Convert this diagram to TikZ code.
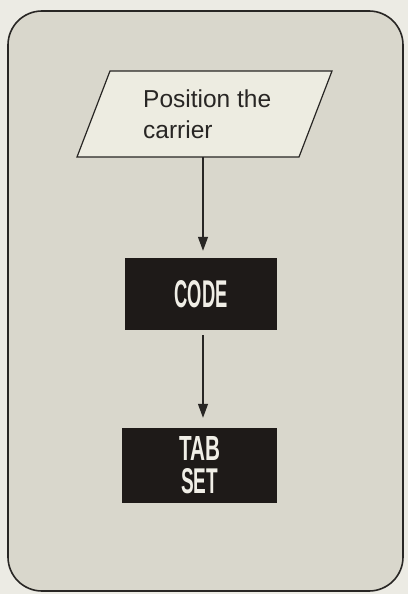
\documentclass[tikz,border=0pt]{standalone}
\usepackage{fontspec}
\usepackage{graphicx}
\setmainfont{Liberation Sans}
\usetikzlibrary{arrows.meta}
\definecolor{pagebg}{RGB}{236,235,228}
\definecolor{panelbg}{RGB}{217,215,204}
\definecolor{parabg}{RGB}{237,236,225}
\definecolor{boxbg}{RGB}{30,26,24}
\definecolor{inkc}{RGB}{40,38,36}
\definecolor{boxtxt}{RGB}{240,238,230}
\tikzset{
  panel/.style={draw=inkc, line width=1.6pt, fill=panelbg, rounded corners=34pt},
  parashape/.style={draw=inkc, line width=1.2pt, fill=parabg, line join=miter},
  blackbox/.style={fill=boxbg, draw=none, inner sep=0pt, text=boxtxt, align=center},
  flow/.style={draw=inkc, line width=1.2pt, -{Triangle[length=14pt,width=10pt]}},
  ptext/.style={inner sep=0pt, anchor=base west, text=inkc, font=\fontsize{24.5}{31}\selectfont}
}
\begin{document}
\begin{tikzpicture}[x=1pt,y=-1pt]
\useasboundingbox (0,0) rectangle (408,594);
\fill[pagebg] (0,0) rectangle (408,594);
\path[panel] (8,11) rectangle (403,591);
% parallelogram
\path[parashape] (110,71) -- (332,71) -- (299,157) -- (77,157) -- cycle;
\node[ptext] (pos1) at (143,107) {Position the};
\node[ptext] (pos2) at (143,138) {carrier};
\coordinate (pbot) at (203,157);
% black boxes
\node[blackbox, minimum width=152pt, minimum height=72pt] (code) at (201,294)
  {\resizebox{53pt}{27pt}{\bfseries CODE}};
\node[blackbox, minimum width=155pt, minimum height=75pt, font=\fontsize{10}{33}\selectfont] (tabset) at (199.5,465.5)
  {\resizebox{41pt}{24pt}{\bfseries TAB}\\\resizebox{37pt}{25pt}{\bfseries SET}};
% connectors
\draw[flow, shorten >=7pt] (pbot) -- (pbot |- code.north);
\draw[flow, shorten <=5pt, shorten >=10pt] (pbot |- code.south) -- (pbot |- tabset.north);
\end{tikzpicture}
\end{document}
